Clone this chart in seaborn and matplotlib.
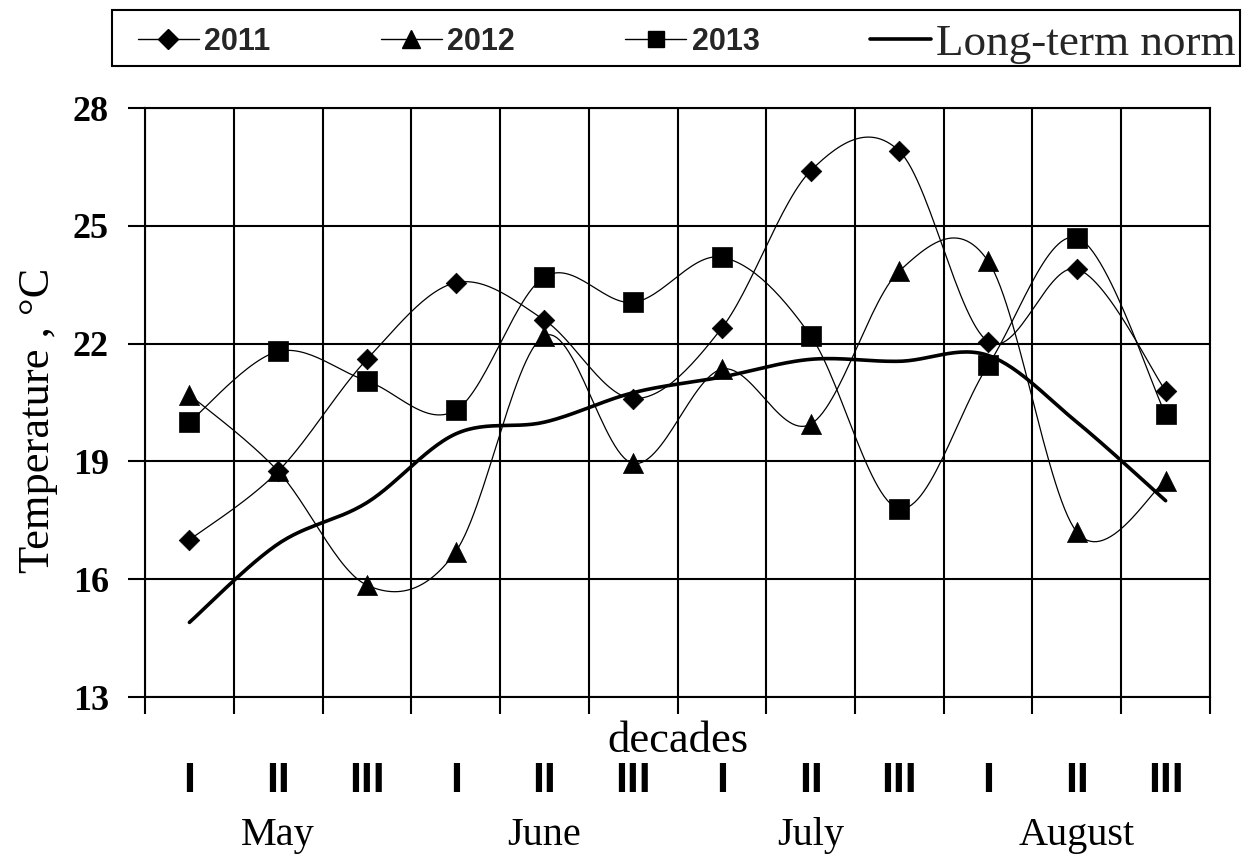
import numpy as np
import pandas as pd
import matplotlib
matplotlib.use("Agg")
import matplotlib.pyplot as plt
import seaborn as sns
from matplotlib.lines import Line2D
from matplotlib.patches import Rectangle
import matplotlib.transforms as mtransforms

# ---------------- data ----------------
decades = ["I", "II", "III", "I", "II", "III", "I", "II", "III", "I", "II", "III"]
months = ["May", "June", "July", "August"]
t2011 = [17.0, 18.75, 21.6, 23.55, 22.6, 20.6, 22.4, 26.4, 26.9, 22.05, 23.9, 20.8]
t2012 = [20.7, 18.75, 15.85, 16.7, 22.2, 18.95, 21.35, 19.95, 23.85, 24.1, 17.2, 18.5]
t2013 = [20.0, 21.8, 21.05, 20.3, 23.7, 23.05, 24.2, 22.2, 17.8, 21.45, 24.7, 20.2]
norm = [14.9, 16.9, 17.95, 19.7, 20.0, 20.75, 21.15, 21.6, 21.55, 21.7, 20.0, 18.0]
yticks = [13, 16, 19, 22, 25, 28]
series_names = ["2011", "2012", "2013", "Long-term norm"]

sns.set_theme(style="white")
plt.rcParams["font.family"] = ["DejaVu Sans"]

SERIF = "Liberation Serif"
SANS = "Liberation Sans"


def smooth(x, y, n=30):
    """Excel-like Catmull-Rom / Bezier smoothing through the data points."""
    x = np.asarray(x, float)
    y = np.asarray(y, float)
    xs, ys = [], []
    m = len(x)
    t = np.linspace(0, 1, n)
    for i in range(m - 1):
        i0 = max(i - 1, 0)
        i3 = min(i + 2, m - 1)
        for arr, out in ((x, xs), (y, ys)):
            p0, p1, p2, p3 = arr[i0], arr[i], arr[i + 1], arr[i3]
            c1 = p1 + (p2 - p0) / 6.0
            c2 = p2 - (p3 - p1) / 6.0
            seg = ((1 - t) ** 3) * p1 + 3 * ((1 - t) ** 2) * t * c1 + 3 * (1 - t) * t ** 2 * c2 + t ** 3 * p2
            out.extend(seg if i == 0 else seg[1:])
    return np.array(xs), np.array(ys)


fig = plt.figure(figsize=(12.46, 8.6), dpi=100)
ax = fig.add_axes([0.1164, 0.1895, 0.8547, 0.6849])

xpos = np.arange(len(decades))

series = [(t2011, "D", 110), (t2012, "^", 210), (t2013, "s", 200)]
for vals, mk, sz in series:
    sx, sy = smooth(xpos, vals)
    sns.lineplot(x=sx, y=sy, ax=ax, color="black", linewidth=0.9, sort=False, estimator=None)
    sns.scatterplot(x=xpos, y=vals, ax=ax, marker=mk, s=sz, color="black", edgecolor="black",
                    linewidth=0.5, zorder=5)

nx, ny = smooth(xpos, norm)
sns.lineplot(x=nx, y=ny, ax=ax, color="black", linewidth=2.6, sort=False, estimator=None)

# axes limits / ticks
ax.set_xlim(-0.5, len(decades) - 0.5)
ax.set_ylim(13, 28)
ax.set_yticks(yticks)
ax.set_yticklabels([str(v) for v in yticks], fontfamily=SERIF, fontweight="bold", fontsize=26)
ax.set_xticks(xpos)
ax.set_xticklabels(decades, fontfamily=SANS, fontweight="bold", fontsize=31)
ax.set_xticks(np.arange(-0.5, len(decades), 1.0), minor=True)
ax.tick_params(axis="x", which="major", length=0, pad=46, colors="black")
ax.tick_params(axis="x", which="minor", length=12, width=1.5, direction="out", color="black", bottom=True)
ax.tick_params(axis="y", which="major", length=12, width=1.5, direction="out", pad=14, colors="black", left=True)

ax.grid(False)
ax.yaxis.grid(True, which="major", color="black", linewidth=1.5)
ax.xaxis.grid(True, which="minor", color="black", linewidth=1.5)
for sp in ax.spines.values():
    sp.set_color("black")
    sp.set_linewidth(1.5)

ax.set_xlabel("")
ax.set_ylabel("Temperature , °C", fontfamily=SERIF, fontsize=32, color="black")
ax.yaxis.set_label_coords(-0.082, 0.47)

ax.text(0.5, -0.075, "decades", transform=ax.transAxes, ha="center", va="center",
        fontfamily=SERIF, fontsize=32, color="black")

trans = mtransforms.blended_transform_factory(ax.transData, ax.transAxes)
for i, mname in enumerate(months):
    ax.text(xpos[3 * i + 1], -0.235, mname, transform=trans, ha="center", va="center",
            fontfamily=SERIF, fontsize=29, color="black")

# legend frame (separate box) + legend entries
W, H = 1246.0, 860.0
fig.add_artist(Rectangle((112 / W, 1 - 66 / H), (1240 - 112) / W, 56 / H, transform=fig.transFigure,
                         fill=False, edgecolor="black", linewidth=1.5))
handles = [
    Line2D([], [], color="black", lw=1.0, marker="D", markersize=10),
    Line2D([], [], color="black", lw=1.0, marker="^", markersize=13),
    Line2D([], [], color="black", lw=1.0, marker="s", markersize=12),
    Line2D([], [], color="black", lw=2.6),
]
leg = fig.legend(handles, series_names, loc="center left",
                 bbox_to_anchor=(138 / W, 1 - 72 / H, (1236 - 138) / W, 56 / H),
                 bbox_transform=fig.transFigure,
                 mode="expand", ncol=4, frameon=False,
                 prop={"family": SERIF, "size": 32.5},
                 handlelength=1.35, handletextpad=0.12, borderpad=0.0, borderaxespad=0)
for txt in leg.get_texts()[:3]:
    txt.set_fontfamily(SANS)
    txt.set_fontweight("bold")
    txt.set_fontsize(22)
    txt.set_y(5)

fig.savefig("out.png", dpi=100)
